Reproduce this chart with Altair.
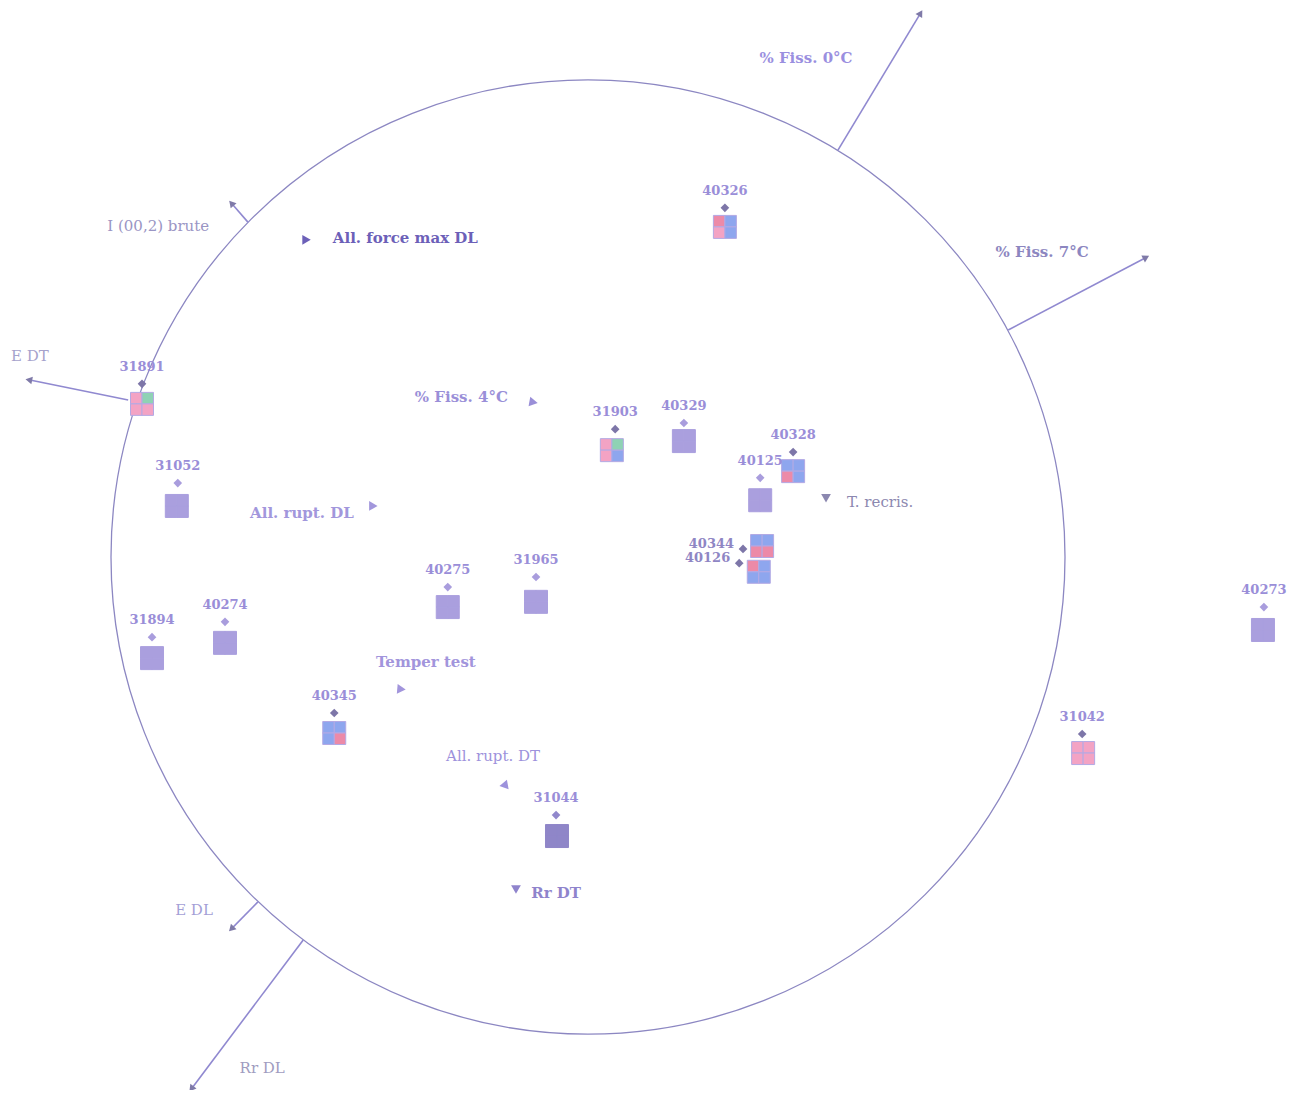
import altair as alt
import pandas as pd
import numpy as np

# ---- observations (biplot coordinates, correlation circle radius = 1) ----
obs_id = ["40326", "31891", "31903", "40329", "40328", "40125", "40344", "40126",
          "31052", "31965", "40275", "40274", "31894", "40345", "31044", "31042", "40273"]
obs_x = [0.287, -0.935, 0.057, 0.201, 0.430, 0.361, 0.325, 0.317,
         -0.860, -0.109, -0.294, -0.761, -0.914, -0.532, -0.067, 1.036, 1.417]
obs_y = [0.732, 0.363, 0.268, 0.281, 0.220, 0.166, 0.017, -0.013,
         0.155, -0.042, -0.063, -0.136, -0.168, -0.327, -0.541, -0.371, -0.105]
glyph_x = [0.287, -0.935, 0.050, 0.201, 0.430, 0.361, 0.365, 0.358,
           -0.862, -0.109, -0.294, -0.761, -0.914, -0.532, -0.065, 1.038, 1.415]
glyph_y = [0.692, 0.321, 0.224, 0.243, 0.180, 0.119, 0.023, -0.031,
           0.107, -0.094, -0.105, -0.180, -0.212, -0.369, -0.585, -0.411, -0.153]
label_side = ["top", "top", "top", "top", "top", "top", "left", "left",
              "top", "top", "top", "top", "top", "top", "top", "top", "top"]
glyph_grid = [True, True, True, False, True, False, True, True,
              False, False, False, False, False, True, False, True, False]

P, R, B, G, L, D = "#f3a3c4", "#ec8aa8", "#8ea6ee", "#8fd2b4", "#aa9fde", "#8f86c8"
q_tl = [R, P, P, L, B, L, B, R, L, L, L, L, L, B, D, P, L]
q_tr = [B, G, G, L, B, L, B, B, L, L, L, L, L, B, D, P, L]
q_bl = [P, P, P, L, R, L, R, B, L, L, L, L, L, B, D, P, L]
q_br = [B, P, B, L, B, L, R, B, L, L, L, L, L, R, D, P, L]

# ---- variables drawn outside / on the circle (arrow from circle) ----
var_out = ["% Fiss. 0°C", "% Fiss. 7°C", "I (00,2) brute", "E DT", "E DL", "Rr DL"]
var_out_x0 = [0.524, 0.881, -0.713, -0.964, -0.692, -0.597]
var_out_y0 = [0.853, 0.476, 0.702, 0.329, -0.723, -0.803]
var_out_x1 = [0.696, 1.168, -0.746, -1.170, -0.746, -0.830]
var_out_y1 = [1.138, 0.627, 0.740, 0.371, -0.778, -1.113]
var_out_lx = [0.457, 0.952, -0.901, -1.170, -0.826, -0.683]
var_out_ly = [1.046, 0.639, 0.694, 0.421, -0.740, -1.071]
var_out_col = ["#9a8fe0", "#8c86c0", "#9a95c4", "#a6a2cc", "#a49fd6", "#a09cc0"]
var_out_bold = [True, True, False, False, False, False]

# ---- variables inside the circle (arrow tips only) ----
var_in = ["All. force max DL", "% Fiss. 4°C", "All. rupt. DL", "T. recris.",
          "Temper test", "All. rupt. DT", "Rr DT"]
var_in_x = [-0.593, -0.117, -0.453, 0.499, -0.394, -0.174, -0.151]
var_in_y = [0.665, 0.325, 0.107, 0.126, -0.277, -0.478, -0.694]
var_in_dir = [90, 100, 90, 180, 95, 140, 180]
var_in_lx = [-0.535, -0.168, -0.491, 0.543, -0.340, -0.199, -0.119]
var_in_ly = [0.669, 0.335, 0.092, 0.115, -0.220, -0.417, -0.704]
var_in_align = ["left", "right", "right", "left", "center", "center", "left"]
var_in_col = ["#6c60b8", "#9a8fd8", "#a297dc", "#8c88b0", "#a295dc", "#9d92dc", "#8f84cc"]
var_in_bold = [True, True, True, False, True, False, True]

# ---- layout ----
PX = 477.0
W, H = 1290, 1082
XMIN = -580 / PX
XMAX = (W - 580) / PX
YMAX = 549 / PX
YMIN = -(H - 549) / PX
HALF = 11.5 / PX
FONT = "DejaVu Serif"

xs = alt.Scale(domain=[XMIN, XMAX], nice=False, zero=False)
ys = alt.Scale(domain=[YMIN, YMAX], nice=False, zero=False)


def X(f="x"):
    return alt.X(f"{f}:Q", scale=xs, axis=None)


def Y(f="y"):
    return alt.Y(f"{f}:Q", scale=ys, axis=None)


# circle
circle = alt.Chart(pd.DataFrame({"x": [0.0], "y": [0.0]})).mark_point(
    shape="circle", filled=False, size=(2 * PX) ** 2, strokeWidth=1.3,
    color="#8c87c2", opacity=1
).encode(x=X(), y=Y())

# outer arrows
out_df = pd.DataFrame({"name": var_out, "x": var_out_x0, "y": var_out_y0,
                       "x2": var_out_x1, "y2": var_out_y1,
                       "lx": var_out_lx, "ly": var_out_ly, "col": var_out_col,
                       "bold": var_out_bold})
out_df["ang"] = np.mod(np.degrees(np.arctan2(out_df["x2"] - out_df["x"],
                                             out_df["y2"] - out_df["y"])), 360)
rules = alt.Chart(out_df).mark_rule(strokeWidth=1.6, color="#9089d0").encode(
    x=X(), y=Y(), x2="x2:Q", y2="y2:Q")
heads = alt.Chart(out_df).mark_point(shape="triangle", filled=True, size=60,
                                     opacity=1, color="#7f7aa8").encode(
    x=X("x2"), y=Y("y2"), angle=alt.Angle("ang:Q", scale=None))
out_texts = []
for b in [True, False]:
    out_texts.append(
        alt.Chart(out_df).transform_filter(alt.datum.bold == b).mark_text(
            font=FONT, fontSize=15, fontWeight="bold" if b else "normal").encode(
            x=X("lx"), y=Y("ly"), text="name:N", color=alt.Color("col:N", scale=None)))

# inner arrow tips
in_df = pd.DataFrame({"name": var_in, "x": var_in_x, "y": var_in_y, "ang": var_in_dir,
                      "lx": var_in_lx, "ly": var_in_ly, "al": var_in_align,
                      "col": var_in_col, "bold": var_in_bold})
tips = alt.Chart(in_df).mark_point(shape="triangle", filled=True, size=95, opacity=1).encode(
    x=X(), y=Y(), angle=alt.Angle("ang:Q", scale=None), color=alt.Color("col:N", scale=None))
in_texts = []
for al in ["left", "right", "center"]:
    for b in [True, False]:
        in_texts.append(
            alt.Chart(in_df).transform_filter(
                (alt.datum.al == al) & (alt.datum.bold == b)).mark_text(
                font=FONT, fontSize=15, fontWeight="bold" if b else "normal", align=al).encode(
                x=X("lx"), y=Y("ly"), text="name:N", color=alt.Color("col:N", scale=None)))

# observation glyphs (4 quadrants)
rows = []
for i, oid in enumerate(obs_id):
    cols = [q_tl[i], q_tr[i], q_bl[i], q_br[i]]
    for (sx, sy), c in zip([(-1, 1), (1, 1), (-1, -1), (1, -1)], cols):
        rows.append({"id": oid, "x": glyph_x[i], "y": glyph_y[i],
                     "x2": glyph_x[i] + sx * HALF, "y2": glyph_y[i] + sy * HALF,
                     "fill": c, "stroke": "#b3a9e4" if glyph_grid[i] else c})
gdf = pd.DataFrame(rows)
glyphs = alt.Chart(gdf).mark_rect(strokeWidth=1).encode(
    x=X(), y=Y(), x2="x2:Q", y2="y2:Q",
    fill=alt.Fill("fill:N", scale=None), stroke=alt.Stroke("stroke:N", scale=None))

odf = pd.DataFrame({"id": obs_id, "x": obs_x, "y": obs_y, "side": label_side,
                    "dcol": ["#7d76a8" if g else ("#9188cc" if a == D else "#a99ddd")
                             for g, a in zip(glyph_grid, q_tl)]})
diam = alt.Chart(odf).mark_point(shape="diamond", filled=True, size=75, opacity=1).encode(
    x=X(), y=Y(), color=alt.Color("dcol:N", scale=None))
lab_top = alt.Chart(odf).transform_filter(alt.datum.side == "top").mark_text(
    font=FONT, fontSize=13, fontWeight="bold", color="#9a8ed8", dy=-17).encode(
    x=X(), y=Y(), text="id:N")
lab_left = alt.Chart(odf).transform_filter(alt.datum.side == "left").mark_text(
    font=FONT, fontSize=13, fontWeight="bold", color="#8f86c4", align="right", dx=-9, dy=-5).encode(
    x=X(), y=Y(), text="id:N")

chart = alt.layer(circle, rules, heads, *out_texts, tips, *in_texts, glyphs, diam,
                  lab_top, lab_left).properties(
    width=W, height=H, padding=0, autosize=alt.AutoSizeParams(type="none"),
    background="white"
).configure_view(stroke=None)

chart.save("out.html", embed_options={"renderer": "svg", "actions": False})
